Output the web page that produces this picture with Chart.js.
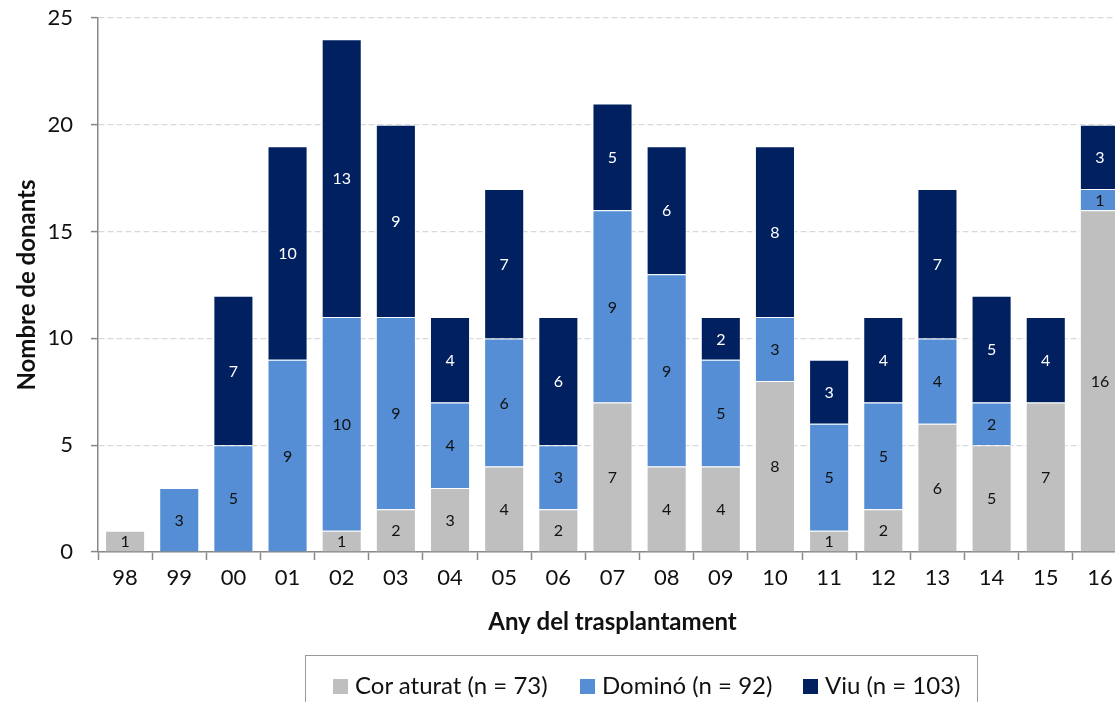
<!DOCTYPE html>
<html>
<head>
<meta charset="utf-8">
<script src="https://cdn.jsdelivr.net/npm/chart.js@4.4.0/dist/chart.umd.min.js"></script>
<style>
  html, body { margin: 0; padding: 0; background: #fff; overflow: hidden; }
  #wrap { position: relative; width: 1115px; height: 702px; overflow: hidden; }
  #myChart { position: absolute; left: 0; top: 0; }
  #legend {
    position: absolute; left: 305px; top: 655px; width: 673px; height: 60px;
    border: 1.5px solid #999; box-sizing: border-box;
    font-family: Lato, sans-serif; font-size: 24px; color: #111;
  }
  #legend span.item { position: absolute; top: 14px; white-space: nowrap; }
  #legend i { display: inline-block; width: 15px; height: 15px; margin-right: 7px; vertical-align: 0px; }
</style>
</head>
<body>
<div id="wrap">
  <canvas id="myChart" width="1130" height="702"></canvas>
  <div id="legend"></div>
</div>
<script>
const labels = ['98','99','00','01','02','03','04','05','06','07','08','09','10','11','12','13','14','15','16'];
const corAturat = [1,0,0,0,1,2,3,4,2,7,4,4,8,1,2,6,5,7,16];
const domino    = [0,3,5,9,10,9,4,6,3,9,9,5,3,5,5,4,2,0,1];
const viu       = [0,0,7,10,13,9,4,7,6,5,6,2,8,3,4,7,5,4,3];
const seriesNames = ['Cor aturat (n = 73)', 'Dominó (n = 92)', 'Viu (n = 103)'];
const colors = ['#bfbfbf', '#558ed5', '#002060'];
const labelColors = ['#111', '#111', '#fff'];

// labels inside each segment
const segLabels = {
  id: 'segLabels',
  afterDatasetsDraw(chart) {
    const ctx = chart.ctx;
    ctx.save();
    ctx.font = '16px Lato, sans-serif';
    ctx.textAlign = 'center';
    ctx.textBaseline = 'middle';
    chart.data.datasets.forEach(function (ds, i) {
      const meta = chart.getDatasetMeta(i);
      meta.data.forEach(function (bar, j) {
        const v = ds.data[j];
        if (!v) return;
        ctx.fillStyle = labelColors[i];
        ctx.fillText(String(v), bar.x, (bar.y + bar.base) / 2 + 1);
      });
    });
    ctx.restore();
  }
};

const ctx = document.getElementById('myChart').getContext('2d');
const chart = new Chart(ctx, {
  type: 'bar',
  data: {
    labels: labels,
    datasets: [
      { label: seriesNames[0], data: corAturat, backgroundColor: colors[0] },
      { label: seriesNames[1], data: domino, backgroundColor: colors[1] },
      { label: seriesNames[2], data: viu, backgroundColor: colors[2] }
    ].map(function (d) {
      d.borderColor = 'rgba(255,255,255,0.7)';
      d.borderWidth = 1;
      d.borderSkipped = 'start';
      d.barPercentage = 0.74;
      d.categoryPercentage = 1;
      return d;
    })
  },
  options: {
    responsive: false,
    animation: false,
    devicePixelRatio: 1,
    layout: { padding: { top: 18, left: 0, right: 3, bottom: 65 } },
    plugins: { legend: { display: false }, tooltip: { enabled: false } },
    scales: {
      x: {
        stacked: true,
        offset: true,
        afterFit: function (s) { s.height = 85; },
        grid: { display: true, drawOnChartArea: false, offset: true, tickLength: 8, tickColor: '#888', color: '#888', tickWidth: 1.5 },
        border: { display: true, color: '#888', width: 1.5 },
        ticks: { color: '#111', font: { family: 'Lato', size: 22 }, padding: 5, maxRotation: 0, autoSkip: false },
        title: { display: true, text: 'Any del trasplantament', color: '#111', font: { family: 'Lato', size: 24, weight: 'bold' }, padding: { top: 0, bottom: 0 } }
      },
      y: {
        stacked: true,
        min: 0,
        max: 25,
        afterFit: function (s) { s.width = 98; s.paddingTop = 0; s.paddingBottom = 0; },
        grid: { color: '#d9d9d9', lineWidth: 1.2, tickColor: '#888', tickLength: 7, tickWidth: 1.5 },
        border: { display: true, color: '#888', width: 1.5, dash: [6, 3] },
        ticks: { stepSize: 5, color: '#111', font: { family: 'Lato', size: 22 }, padding: 18 },
        title: { display: true, text: 'Nombre de donants', color: '#111', font: { family: 'Lato', size: 24, weight: 'bold' }, padding: { top: 13, bottom: 0 } }
      }
    }
  },
  plugins: [segLabels]
});

// legend with framed box
const leg = document.getElementById('legend');
const pos = [27, 274, 497];
seriesNames.forEach(function (n, i) {
  const s = document.createElement('span');
  s.className = 'item';
  s.style.left = pos[i] + 'px';
  s.innerHTML = '<i style="background:' + colors[i] + '"></i>' + n;
  leg.appendChild(s);
});
</script>
</body>
</html>
